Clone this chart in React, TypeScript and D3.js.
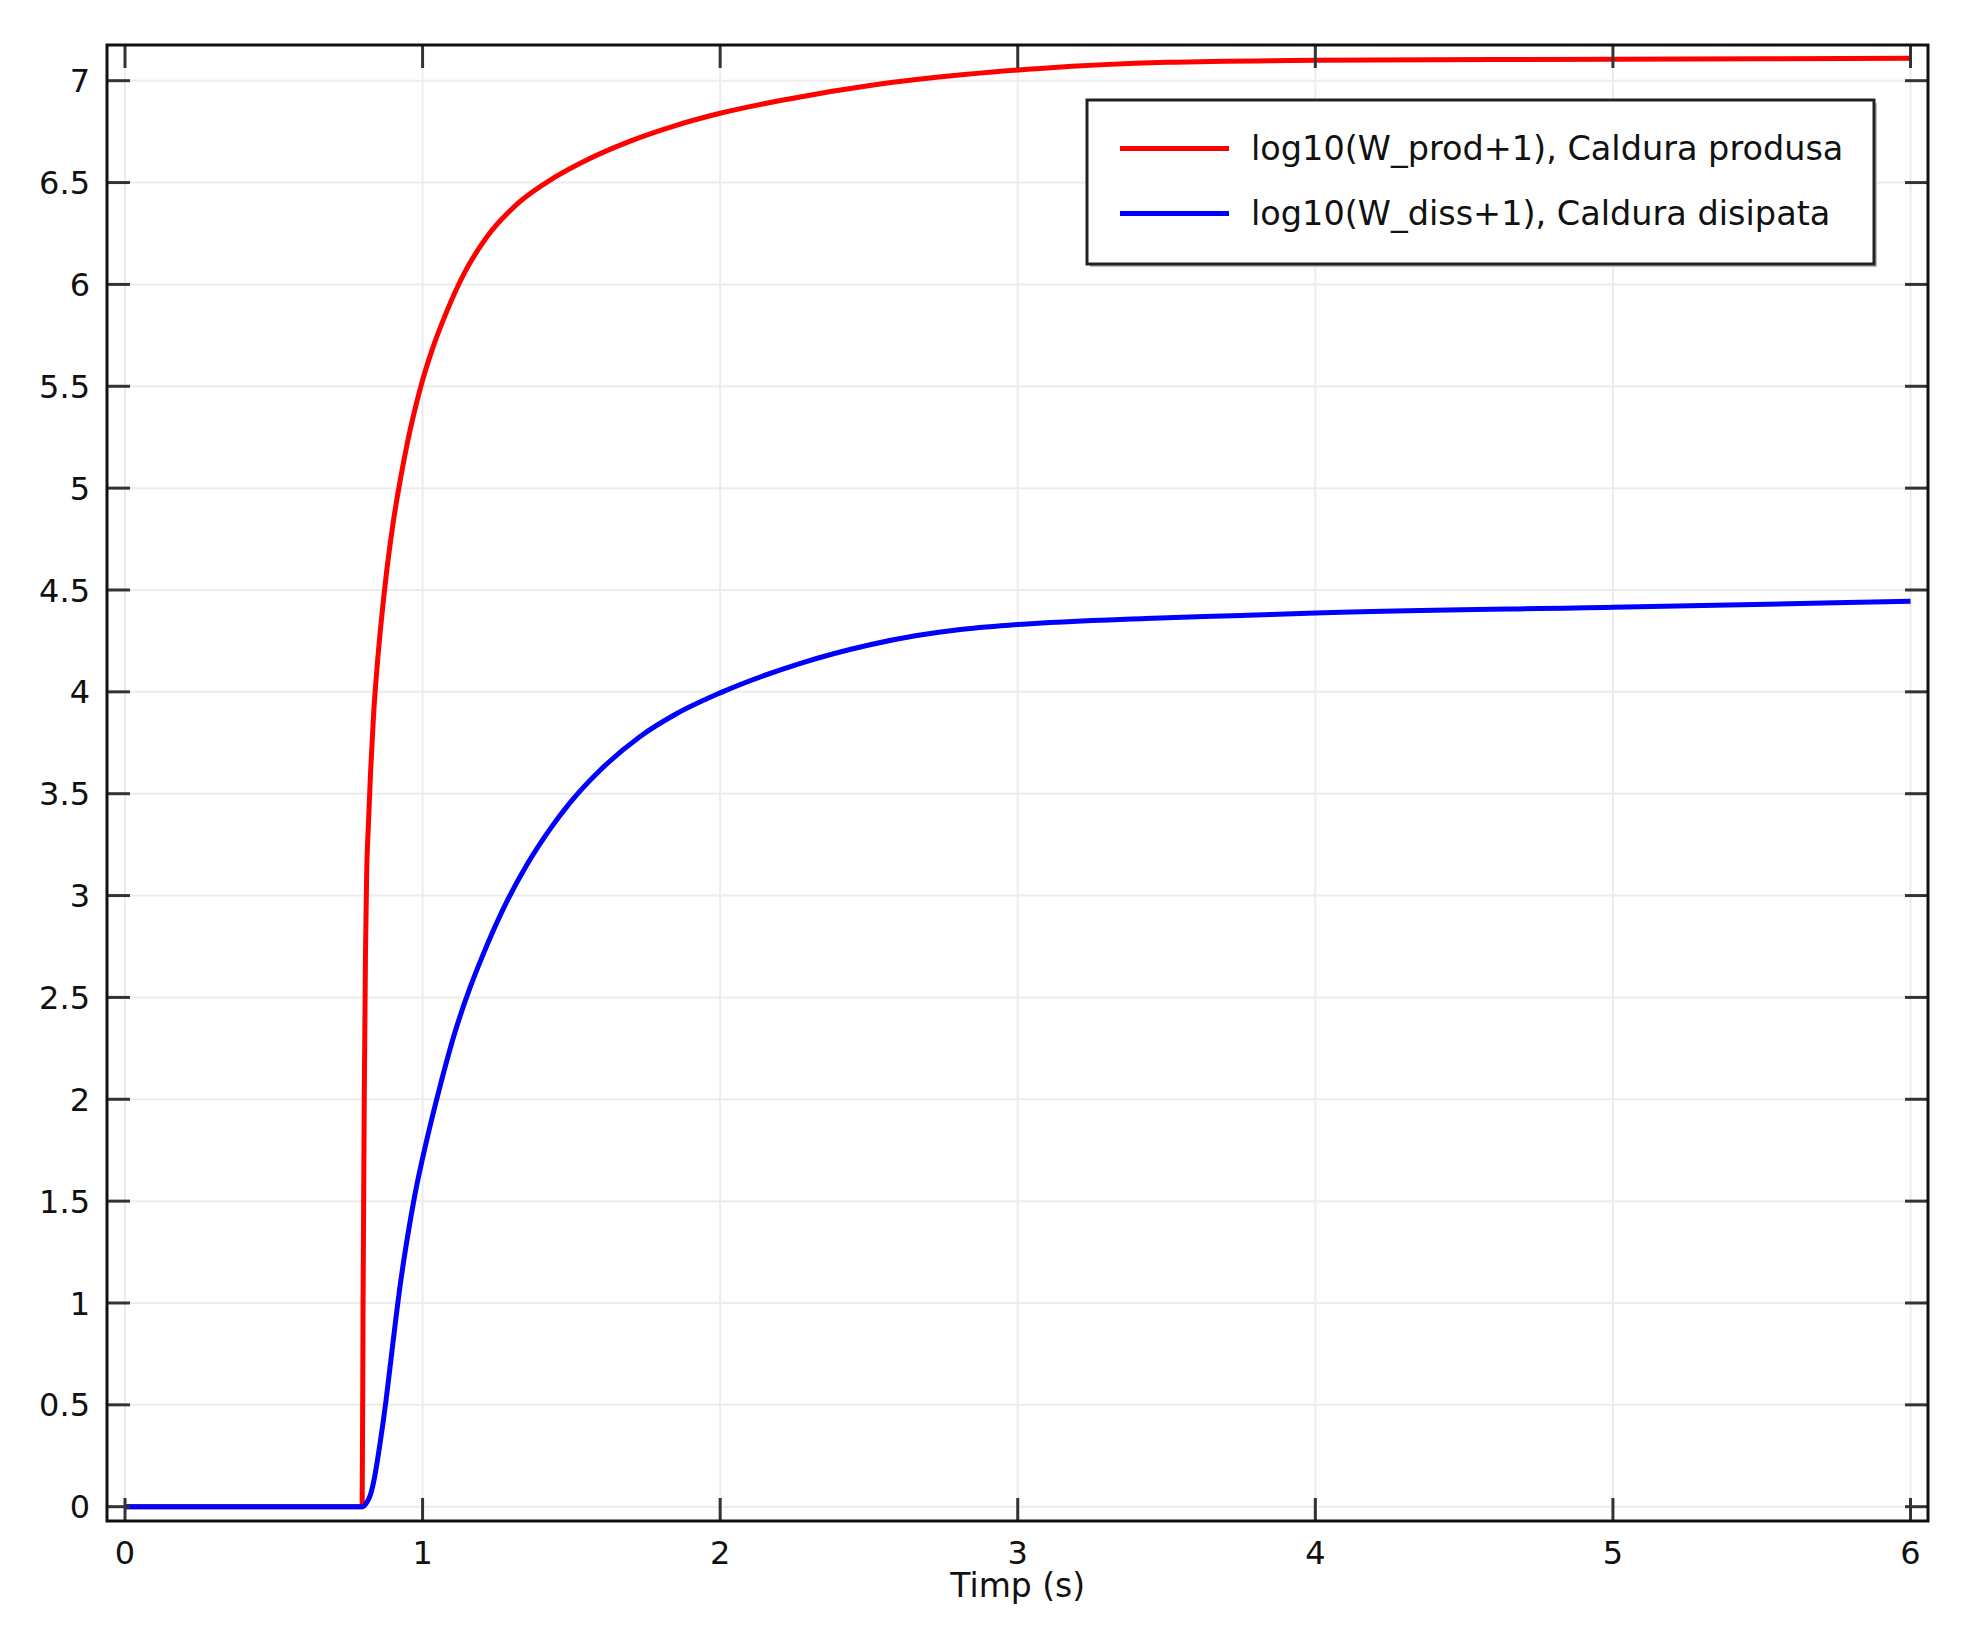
import React from "react";
import * as d3 from "d3";

const xTicks = [0, 1, 2, 3, 4, 5, 6];
const yTicks = [0, 0.5, 1, 1.5, 2, 2.5, 3, 3.5, 4, 4.5, 5, 5.5, 6, 6.5, 7];

const prodT = [0, 0.797, 0.8, 0.804, 0.808, 0.812, 0.818, 0.825, 0.835, 0.847, 0.86, 0.88, 0.9, 0.925, 0.95, 0.975, 1.0, 1.03, 1.082, 1.142, 1.217, 1.322, 1.443, 1.55, 1.7, 1.85, 2.0, 2.222, 2.52, 2.82, 3.075, 3.5, 4.0, 5.0, 6.0];
const prodV = [0, 0, 1.0, 2.0, 2.7, 3.1, 3.35, 3.6, 3.88, 4.12, 4.33, 4.6, 4.82, 5.04, 5.23, 5.39, 5.53, 5.67, 5.87, 6.06, 6.235, 6.4, 6.525, 6.61, 6.705, 6.78, 6.84, 6.908, 6.98, 7.03, 7.06, 7.09, 7.1, 7.105, 7.11];

const dissT = [0, 0.797, 0.812, 0.825, 0.838, 0.857, 0.877, 0.9, 0.924, 0.95, 0.974, 1.014, 1.058, 1.109, 1.16, 1.206, 1.283, 1.35, 1.43, 1.495, 1.6, 1.73, 1.85, 2.0, 2.27, 2.5, 2.656, 2.8, 3.0, 3.43, 3.75, 4.0, 5.0, 6.0];
const dissV = [0, 0, 0.02, 0.06, 0.14, 0.31, 0.52, 0.8, 1.08, 1.33, 1.53, 1.8, 2.06, 2.33, 2.55, 2.72, 2.97, 3.15, 3.33, 3.455, 3.62, 3.78, 3.89, 3.995, 4.14, 4.23, 4.275, 4.305, 4.33, 4.36, 4.375, 4.387, 4.415, 4.445];

const seriesNames = ["log10(W_prod+1), Caldura produsa", "log10(W_diss+1), Caldura disipata"];
const seriesColors = ["#ff0000", "#0000ff"];
const xLabel = "Timp (s)";

const W = 1968;
const H = 1641;
const frame = { left: 107, right: 1928, top: 45, bottom: 1521 };

export default function App() {
  const x = d3.scaleLinear().domain([0, 6]).range([125, 1910.5]);
  const y = d3.scaleLinear().domain([0, 7]).range([1506.7, 80.7]);

  const line = d3
    .line<[number, number]>()
    .x((d) => x(d[0]))
    .y((d) => y(d[1]))
    .curve(d3.curveMonotoneX);

  const prod: [number, number][] = prodT.map((t, i) => [t, prodV[i]]);
  const diss: [number, number][] = dissT.map((t, i) => [t, dissV[i]]);

  const font = "'DejaVu Sans', sans-serif";
  const tickLen = 23;
  const legend = { x: 1087, y: 100, w: 787, h: 164 };

  return (
    <svg
      width={W}
      height={H}
      style={{ position: "absolute", left: 0, top: 0, background: "#fff" }}
      fontFamily={font}
    >
      <rect x={0} y={0} width={W} height={H} fill="#fff" />
      {/* grid */}
      <g stroke="#ececec" strokeWidth={2}>
        {xTicks.map((t) => (
          <line key={"gx" + t} x1={x(t)} x2={x(t)} y1={frame.top} y2={frame.bottom} />
        ))}
        {yTicks.map((t) => (
          <line key={"gy" + t} x1={frame.left} x2={frame.right} y1={y(t)} y2={y(t)} />
        ))}
      </g>
      {/* series */}
      <path d={line(prod) || ""} fill="none" stroke={seriesColors[0]} strokeWidth={5} strokeLinejoin="round" />
      <path d={line(diss) || ""} fill="none" stroke={seriesColors[1]} strokeWidth={5} strokeLinejoin="round" />
      {/* ticks */}
      <g stroke="#333" strokeWidth={3}>
        {xTicks.map((t) => (
          <g key={"tx" + t}>
            <line x1={x(t)} x2={x(t)} y1={frame.bottom} y2={frame.bottom - tickLen} />
            <line x1={x(t)} x2={x(t)} y1={frame.top} y2={frame.top + tickLen} />
          </g>
        ))}
        {yTicks.map((t) => (
          <g key={"ty" + t}>
            <line x1={frame.left} x2={frame.left + tickLen} y1={y(t)} y2={y(t)} />
            <line x1={frame.right} x2={frame.right - tickLen} y1={y(t)} y2={y(t)} />
          </g>
        ))}
      </g>
      {/* frame */}
      <rect
        x={frame.left}
        y={frame.top}
        width={frame.right - frame.left}
        height={frame.bottom - frame.top}
        fill="none"
        stroke="#111"
        strokeWidth={3}
      />
      {/* tick labels */}
      <g fontSize={32} fill="#111">
        {xTicks.map((t) => (
          <text key={"lx" + t} x={x(t)} y={1564} textAnchor="middle">
            {d3.format("")(t)}
          </text>
        ))}
        {yTicks.map((t) => (
          <text key={"ly" + t} x={90} y={y(t)} dy="0.36em" textAnchor="end">
            {d3.format("")(t)}
          </text>
        ))}
      </g>
      <text x={(x(0) + x(6)) / 2} y={1597} textAnchor="middle" fontSize={33} fill="#111">
        {xLabel}
      </text>
      {/* legend */}
      <rect x={legend.x + 3} y={legend.y + 3} width={legend.w} height={legend.h} fill="#bbb" />
      <rect x={legend.x} y={legend.y} width={legend.w} height={legend.h} fill="#fff" stroke="#222" strokeWidth={3} />
      {seriesNames.map((name, i) => {
        const ly = 148.5 + i * 65;
        return (
          <g key={name}>
            <line x1={1120} x2={1229} y1={ly} y2={ly} stroke={seriesColors[i]} strokeWidth={5} />
            <text x={1251} y={ly + 11} fontSize={33.5} fill="#111">
              {name}
            </text>
          </g>
        );
      })}
    </svg>
  );
}
